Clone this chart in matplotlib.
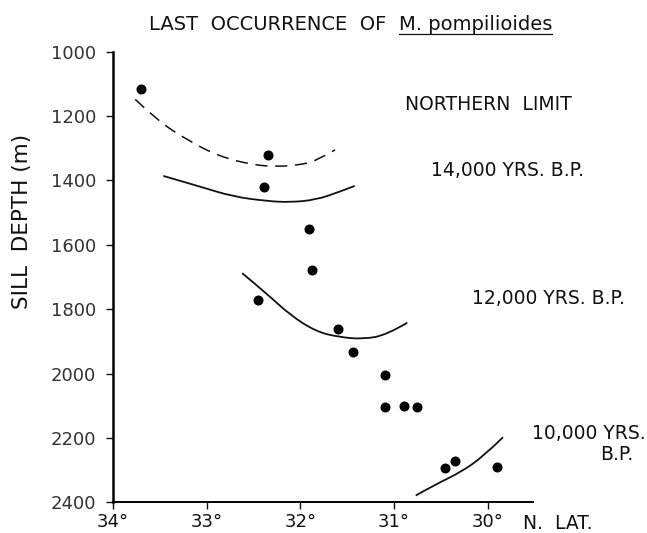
import matplotlib
matplotlib.use("Agg")
import matplotlib.pyplot as plt
from matplotlib.lines import Line2D
from matplotlib.path import Path
from matplotlib.patches import PathPatch

# ---- data ----
pt_lat = [33.70, 32.34, 32.39, 31.91, 31.88, 32.45, 31.60, 31.44, 31.10, 31.10,
          30.89, 30.76, 30.46, 30.35, 29.90]
pt_depth = [1117, 1322, 1419, 1552, 1678, 1773, 1862, 1934, 2006, 2103,
            2100, 2103, 2294, 2272, 2290]

north_lat = [33.76, 33.53, 33.21, 32.86, 32.50, 32.25, 32.01, 31.83, 31.63]
north_depth = [1148, 1212, 1274, 1326, 1352, 1357, 1352, 1339, 1305]

k14_lat = [33.46, 33.07, 32.72, 32.36, 32.11, 31.83, 31.58, 31.42]
k14_depth = [1386, 1419, 1450, 1464, 1468, 1460, 1435, 1417]

k12_lat = [32.62, 32.36, 32.11, 31.83, 31.58, 31.33, 31.08, 30.86]
k12_depth = [1688, 1751, 1818, 1870, 1887, 1893, 1880, 1842]

k10_lat = [30.77, 30.55, 30.30, 30.05, 29.84]
k10_depth = [2379, 2343, 2308, 2258, 2198]

x_ticks = [34, 33, 32, 31, 30]
x_labels = ["34°", "33°", "32°", "31°", "30°"]
y_ticks = [1000, 1200, 1400, 1600, 1800, 2000, 2200, 2400]
y_labels = ["1000", "1200", "1400", "1600", "1800", "2000", "2200", "2400"]

W, H = 647, 533
fig = plt.figure(figsize=(W / 100, H / 100), dpi=100)
ax = fig.add_axes([112.7 / W, 1 - 502.3 / H, (533 - 112.7) / W, (502.3 - 51.7) / H])

ink = "#111111"


def smooth_curve(xs, ys, **kw):
    """Draw a smooth quadratic-Bezier curve through the read points."""
    verts = [(xs[0], ys[0])]
    codes = [Path.MOVETO]
    n = len(xs)
    for i in range(1, n - 1):
        mx = (xs[i] + xs[i + 1]) / 2
        my = (ys[i] + ys[i + 1]) / 2
        if i == n - 2:
            mx, my = xs[i + 1], ys[i + 1]
        verts += [(xs[i], ys[i]), (mx, my)]
        codes += [Path.CURVE3, Path.CURVE3]
    patch = PathPatch(Path(verts, codes), facecolor="none", edgecolor=ink,
                      transform=ax.transData, **kw)
    ax.add_patch(patch)


smooth_curve(north_lat, north_depth, lw=1.1, linestyle=(0, (8, 5)))
smooth_curve(k14_lat, k14_depth, lw=1.3)
smooth_curve(k12_lat, k12_depth, lw=1.3)
smooth_curve(k10_lat, k10_depth, lw=1.3)
ax.plot(pt_lat, pt_depth, "o", color="black", markersize=6.2, linestyle="none")

ax.set_xlim(34, 29.52)
ax.set_ylim(2400, 1000)
ax.set_xticks(x_ticks)
ax.set_xticklabels(x_labels)
ax.set_yticks(y_ticks)
ax.set_yticklabels(y_labels)
for s in ("top", "right"):
    ax.spines[s].set_visible(False)
ax.spines["left"].set_linewidth(1.8)
ax.spines["bottom"].set_linewidth(1.4)
ax.tick_params(axis="both", direction="out", length=5, width=1.0, colors=ink,
               labelsize=13)
ax.tick_params(axis="y", pad=7, labelcolor="#333333")
ax.tick_params(axis="x", pad=3)

fs = 13.5
# axis titles and annotations
fig.text(21.7 / W, 1 - 221.5 / H, "SILL  DEPTH (m)", rotation=90,
         ha="center", va="center", fontsize=15.5, color=ink)
fig.text(522.7 / W, 1 - 523.3 / H, "N.  LAT.", ha="left", va="center",
         fontsize=fs, color=ink)
fig.text(405 / W, 1 - 105 / H, "NORTHERN  LIMIT", ha="left", va="center",
         fontsize=fs, color=ink)
fig.text(431 / W, 1 - 170 / H, "14,000 YRS. B.P.", ha="left", va="center",
         fontsize=fs, color=ink)
fig.text(471.7 / W, 1 - 298.3 / H, "12,000 YRS. B.P.", ha="left", va="center",
         fontsize=fs, color=ink)
fig.text(532.3 / W, 1 - 433.3 / H, "10,000 YRS.", ha="left", va="center",
         fontsize=fs, color=ink)
fig.text(633 / W, 1 - 455 / H, "B.P.", ha="right", va="center",
         fontsize=fs, color=ink)

tfs = 14
t1 = fig.text(149 / W, 1 - 25 / H, "LAST  OCCURRENCE  OF  ", ha="left",
              va="center", fontsize=tfs, color=ink)
t2 = fig.text(0, 0, "M. pompilioides", ha="left", va="center", fontsize=tfs,
              color=ink)
fig.canvas.draw()
r = fig.canvas.get_renderer()
bb1 = t1.get_window_extent(r)
t2.set_position((bb1.x1 / W, 1 - 25 / H))
fig.canvas.draw()
bb2 = t2.get_window_extent(r)
uy = (bb2.y0 + 1) / H
fig.add_artist(Line2D([bb2.x0 / W, bb2.x1 / W], [uy, uy], color=ink, lw=0.9,
                      transform=fig.transFigure))

fig.savefig("out.png", dpi=100)
